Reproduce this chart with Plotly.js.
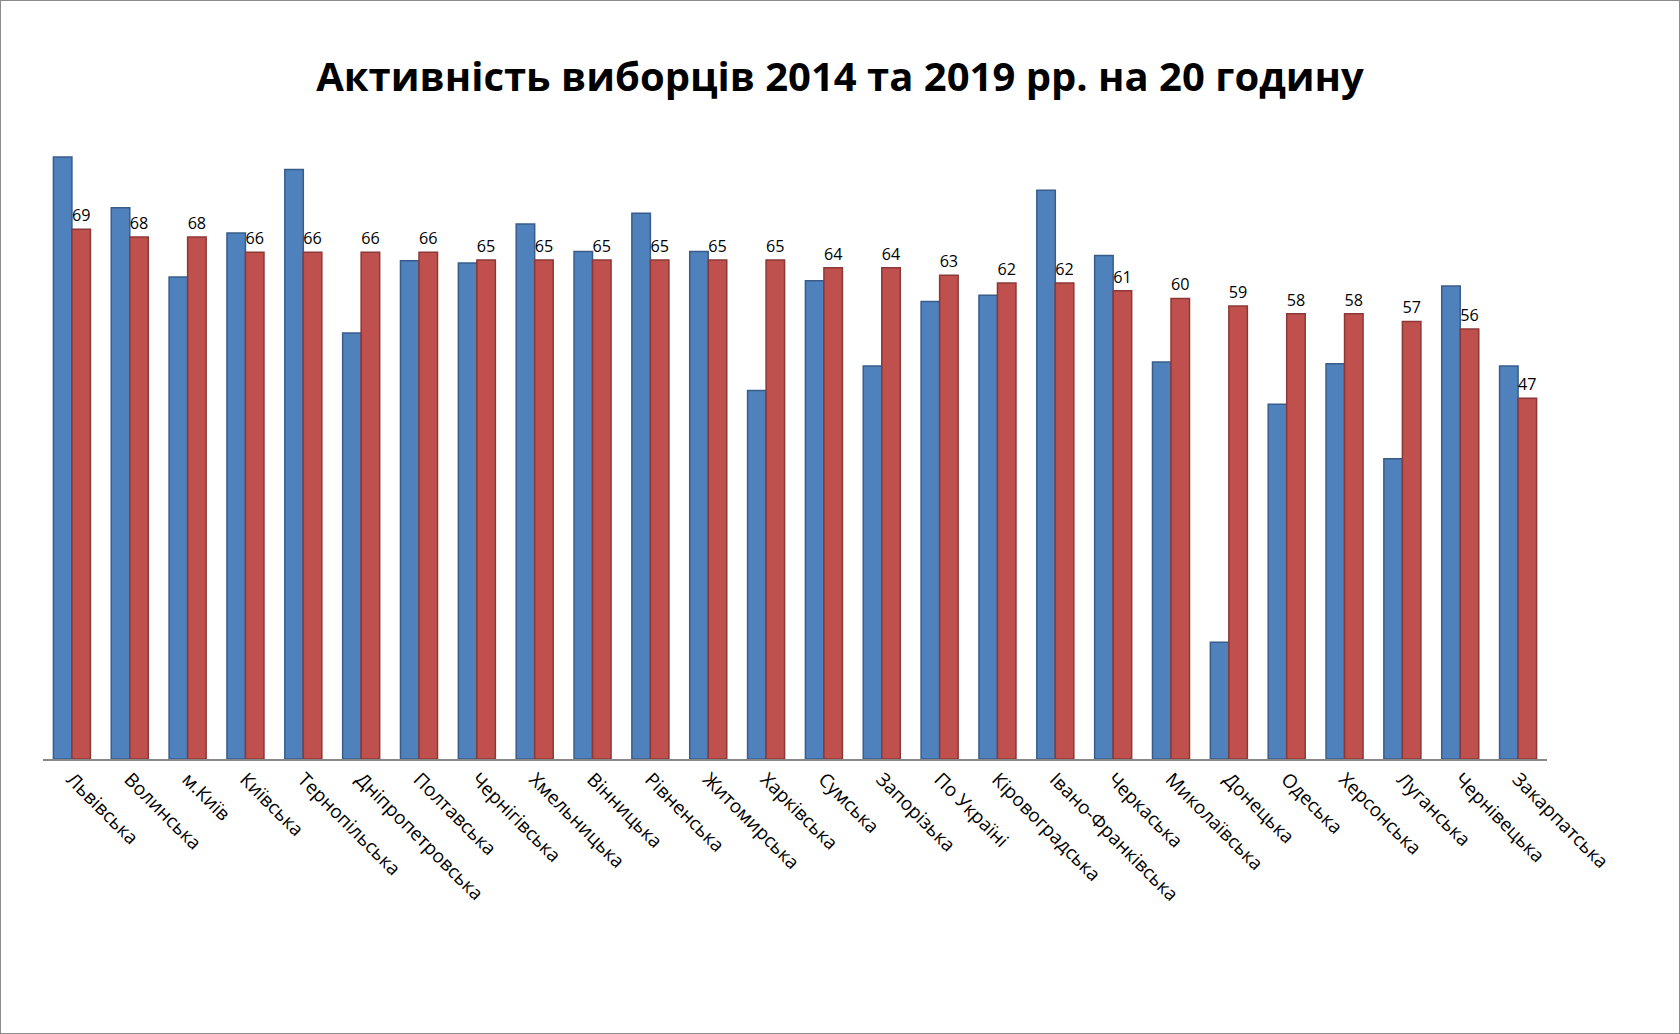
<!DOCTYPE html>
<html>
<head>
<meta charset="utf-8">
<script src="https://cdn.plot.ly/plotly-3.0.1.min.js"></script>
<style>
  html, body { margin: 0; padding: 0; background: #fff; }
  #chart { width: 1678px; height: 1032px; border: 1px solid #8c8c8c; }
</style>
</head>
<body>
<div id="chart"></div>
<script>
// regions, sorted by 2019 turnout
var regions = ['Львівська', 'Волинська', 'м.Київ', 'Київська', 'Тернопільська', 'Дніпропетровська',
    'Полтавська', 'Чернігівська', 'Хмельницька', 'Вінницька', 'Рівненська', 'Житомирська',
    'Харківська', 'Сумська', 'Запорізька', 'По Україні', 'Кіровоградська', 'Івано-Франківська',
    'Черкаська', 'Миколаївська', 'Донецька', 'Одеська', 'Херсонська', 'Луганська',
    'Чернівецька', 'Закарпатська'];

// 2014 values (no labels on the picture)
var turnout2014 = [78.4, 71.8, 62.8, 68.5, 76.8, 55.5, 64.9, 64.6, 69.7, 66.1, 71.1, 66.1,
    48.0, 62.3, 51.2, 59.6, 60.4, 74.1, 65.6, 51.7, 15.2, 46.2, 51.5, 39.1, 61.6, 51.2];

// 2019 values (labelled)
var turnout2019 = [69, 68, 68, 66, 66, 66, 66, 65, 65, 65, 65, 65,
    65, 64, 64, 63, 62, 62, 61, 60, 59, 58, 58, 57, 56, 47];

var data = [
    {
        x: regions, y: turnout2014, type: 'bar', name: '2014',
        marker: {color: '#4F81BD', line: {color: '#385D8A', width: 1.5}},
        hoverinfo: 'x+y'
    },
    {
        x: regions, y: turnout2019, type: 'bar', name: '2019',
        marker: {color: '#C0504D', line: {color: '#8C3836', width: 1.5}},
        text: turnout2019.map(String), textposition: 'outside', cliponaxis: false,
        textfont: {family: 'Open Sans, sans-serif', size: 19, color: '#000'},
        hoverinfo: 'x+y'
    }
];

var layout = {
    title: {
        text: 'Активність виборців 2014 та 2019 рр. на 20 годину',
        font: {family: 'Open Sans, sans-serif', size: 40, color: '#000', weight: 'bold'},
        x: 0.5, y: 0.94
    },
    showlegend: false,
    barmode: 'group',
    bargap: 0.36,
    bargroupgap: 0,
    margin: {l: 42, r: 132, t: 140, b: 274},
    paper_bgcolor: '#fff',
    plot_bgcolor: '#fff',
    xaxis: {
        tickangle: 45,
        tickfont: {family: 'Open Sans, sans-serif', size: 19, color: '#000'},
        showline: true, linecolor: '#888', linewidth: 1.5,
        ticks: '', showgrid: false
    },
    yaxis: {
        range: [0, 80.5],
        visible: false, showgrid: false, zeroline: false
    }
};

Plotly.newPlot('chart', data, layout, {displayModeBar: false});
</script>
</body>
</html>
